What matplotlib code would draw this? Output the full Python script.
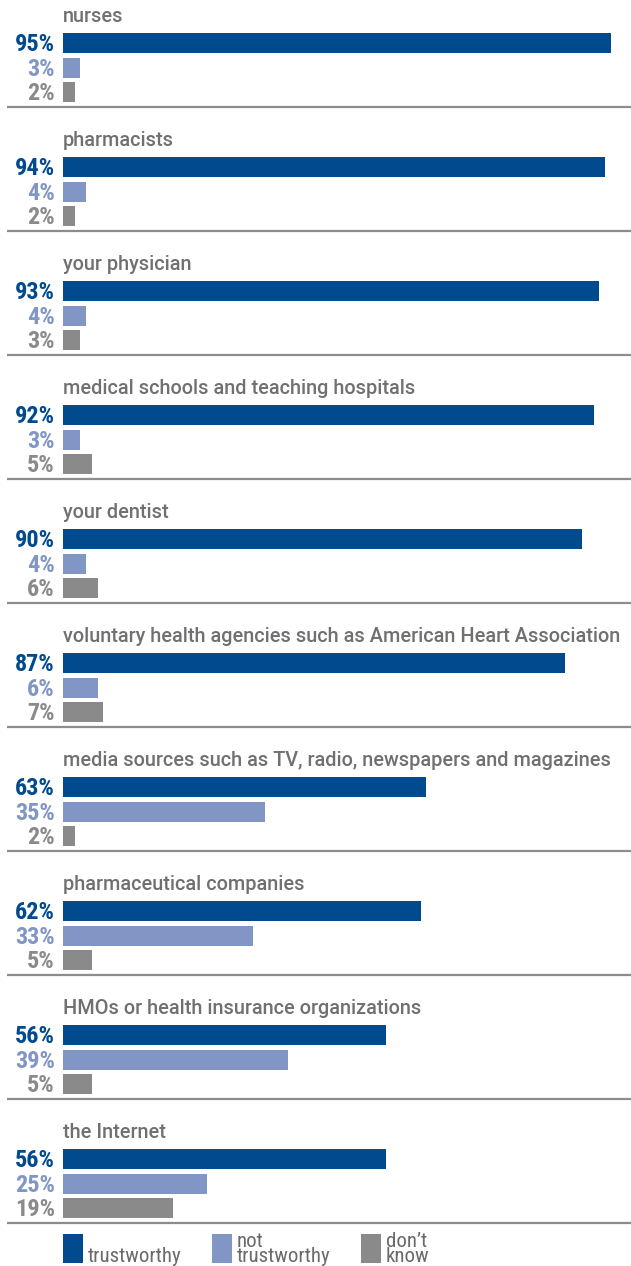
import matplotlib.pyplot as plt

# data
categories = ['nurses', 'pharmacists', 'your physician',
              'medical schools and teaching hospitals', 'your dentist',
              'voluntary health agencies such as American Heart Association',
              'media sources such as TV, radio, newspapers and magazines',
              'pharmaceutical companies',
              'HMOs or health insurance organizations', 'the Internet']
trustworthy = [95, 94, 93, 92, 90, 87, 63, 62, 56, 56]
not_trustworthy = [3, 4, 4, 3, 4, 6, 35, 33, 39, 25]
dont_know = [2, 2, 3, 5, 6, 7, 2, 5, 5, 19]
series_names = ['trustworthy', 'not\ntrustworthy', 'don\u2019t\nknow']

colors = ['#004a8d', '#8196c5', '#8a8a8a']
title_color = '#707070'

W, H = 631, 1266
px_per_pct = 548 / 95.0
left_px = 63
group_h = 124
bar_offsets = [43, 68, 92]
bar_h = 20

fig = plt.figure(figsize=(W / 100, H / 100), dpi=100)
ax = fig.add_axes([left_px / W, 0, 1 - left_px / W, 1])
ax.set_xlim(0, (W - left_px) / px_per_pct)
ax.set_ylim(H, 0)
ax.axis('off')

x_line0 = (7 - left_px) / px_per_pct
x_label = (55 - left_px) / px_per_pct

for i, cat in enumerate(categories):
    top = i * group_h
    ax.text(0, top + 16, cat, fontsize=14.3, color=title_color,
            family='Roboto', weight='medium', va='center', ha='left')
    vals = [trustworthy[i], not_trustworthy[i], dont_know[i]]
    for j, v in enumerate(vals):
        y = top + bar_offsets[j]
        ax.barh(y, v, height=bar_h, left=0, color=colors[j], linewidth=0)
        ax.text(x_label, y + 1.5, f'{v}%', fontsize=17.5, fontweight='bold',
                family='Roboto Condensed', color=colors[j],
                ha='right', va='center', clip_on=False)
    ax.plot([x_line0, ax.get_xlim()[1]], [top + 107, top + 107],
            color='#8c8c8c', lw=1.6, clip_on=False, solid_capstyle='butt')

# legend
leg_x = [63, 212, 361]
for j, name in enumerate(series_names):
    x0 = (leg_x[j] - left_px) / px_per_pct
    ax.bar(x0, 29, width=20 / px_per_pct, bottom=1234, align='edge',
           color=colors[j], linewidth=0)
    ax.text(x0 + 25 / px_per_pct, 1266, name, fontsize=15, color='#6a6a6a',
            family='Roboto Condensed', ha='left', va='bottom', linespacing=0.75)

fig.savefig('out.png', dpi=100)
